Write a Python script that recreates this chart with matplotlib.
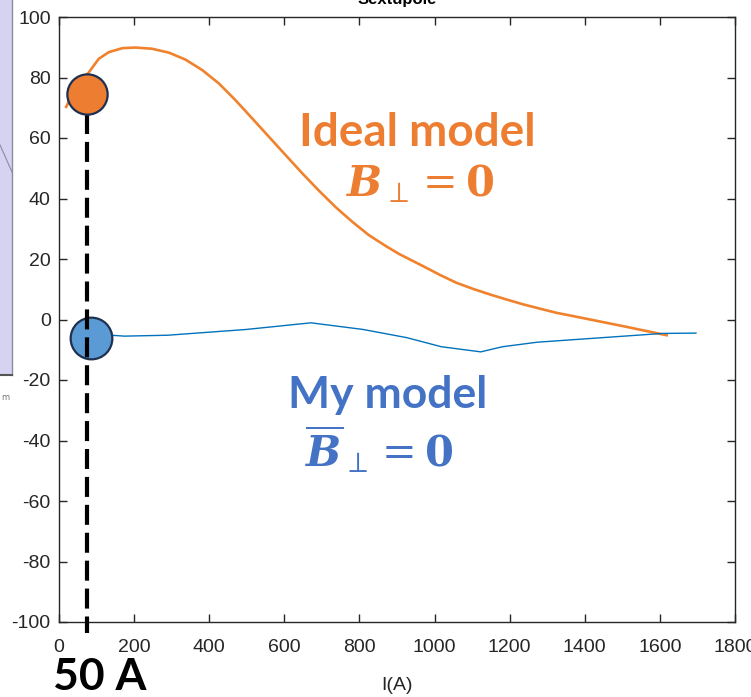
import numpy as np
import matplotlib.pyplot as plt
from matplotlib.patches import Rectangle

# Ideal model curve (orange) and my model curve (blue)
x_ideal = [19, 44, 80, 106, 133, 169, 204, 248, 293, 337, 382, 426, 470, 515,
           559, 603, 648, 692, 737, 781, 825, 870, 905, 970, 1015, 1059, 1103,
           1147, 1192, 1236, 1280, 1325, 1370, 1414, 1458, 1502, 1560, 1618]
y_ideal = [70.3, 76.3, 81.8, 86.2, 88.4, 89.7, 89.9, 89.5, 88.2, 85.9, 82.4,
           78.0, 72.5, 66.4, 60.4, 54.4, 48.3, 42.6, 37.1, 32.3, 27.9, 24.3,
           21.7, 17.6, 14.7, 12.1, 10.1, 8.3, 6.6, 5.0, 3.6, 2.2, 1.1, 0.0,
           -1.1, -2.2, -3.7, -5.2]

x_my = [100, 139, 174, 289, 498, 671, 810, 926, 1018, 1123, 1181, 1274,
        1447, 1608, 1696]
y_my = [-5.0, -5.2, -5.5, -5.2, -3.3, -1.1, -3.3, -6.0, -9.0, -10.7, -9.0,
        -7.5, -6.0, -4.6, -4.5]

i_mark = 75                  # current marked by dashed line
mark_ideal = (74, 74.6)
mark_my = (84, -6.0)

xticks = np.arange(0, 1801, 200)
yticks = np.arange(-100, 101, 20)

orange = '#ED7D31'
blue_txt = '#4472C4'

plt.rcParams['axes.unicode_minus'] = False
plt.rcParams['mathtext.fontset'] = 'dejavuserif'

fig = plt.figure(figsize=(7.51, 6.97), dpi=100)
ax = fig.add_axes([59/751, 75/697, 676/751, 605/697])

ax.plot(x_ideal, y_ideal, color='#F0822D', lw=1.9, zorder=3)
ax.plot(x_my, y_my, color='#0072BD', lw=1.0, zorder=3)

ax.plot([i_mark, i_mark], [68, -103.5], color='black', lw=3, dashes=(4.8, 1.9),
        clip_on=False, zorder=6)
ax.plot(*mark_ideal, 'o', ms=29, mfc=orange, mec='#1F3050', mew=1.6, zorder=7)
ax.plot(*mark_my, 'o', ms=30, mfc='#5B9BD5', mec='#1F3050', mew=1.6, zorder=5)

ax.set_xlim(0, 1800)
ax.set_ylim(-100, 100)
ax.set_xticks(xticks)
ax.set_yticks(yticks)
ax.tick_params(direction='in', length=6, width=1, top=True, right=True,
               labelsize=14, colors='#262626', pad=6)
ax.tick_params(axis='x', pad=12)
for lab in ax.get_xticklabels() + ax.get_yticklabels():
    lab.set_fontfamily('Liberation Sans')
for s in ax.spines.values():
    s.set_color('#262626')
    s.set_linewidth(1.0)
ax.set_xlabel('I(A)', fontsize=14, family='Liberation Sans', color='#262626', labelpad=15)

ax.text(953, 61.7, 'Ideal model', color=orange, fontsize=33, fontweight='bold',
        family='Lato', ha='center', va='center')
ax.text(962, 44.6, r'$\mathbfit{B}_{\perp}=\mathbf{0}$', color=orange, fontsize=30,
        ha='center', va='center')
ax.text(876, -25, 'My model', color=blue_txt, fontsize=32, fontweight='bold',
        family='Lato', ha='center', va='center')
ax.text(852, -43, r'$\overline{\mathbfit{B}}_{\perp}=\mathbf{0}$', color=blue_txt,
        fontsize=30, ha='center', va='center')

# title cut off at the top of the screenshot
fig.text(397/751, 1 - 4/697, 'Sextupole', fontsize=12, fontweight='bold',
         family='Liberation Sans', ha='center', va='baseline')
fig.text(100/751, 1 - 690/697, '50 A', fontsize=32, fontweight='bold',
         family='Lato', ha='center', va='baseline')

# piece of another window at the left edge
fig.patches.append(Rectangle((0, 1 - 375/697), 12/751, 375/697, transform=fig.transFigure,
                             facecolor='#D6D2F2', edgecolor='none', zorder=0))
fig.add_artist(plt.Line2D([12/751, 12/751], [1 - 375/697, 1], transform=fig.transFigure,
                          color='#8C8C9C', lw=1))
fig.add_artist(plt.Line2D([0, 12/751], [1 - 375/697, 1 - 375/697], transform=fig.transFigure,
                          color='#555555', lw=1.5))
fig.add_artist(plt.Line2D([0, 12/751], [1 - 145/697, 1 - 172/697], transform=fig.transFigure,
                          color='#8C8C9C', lw=0.8))
fig.text(5/751, 1 - 398/697, 'm', fontsize=6, color='#777777', ha='center', va='center')

fig.savefig('out.png', dpi=100)
